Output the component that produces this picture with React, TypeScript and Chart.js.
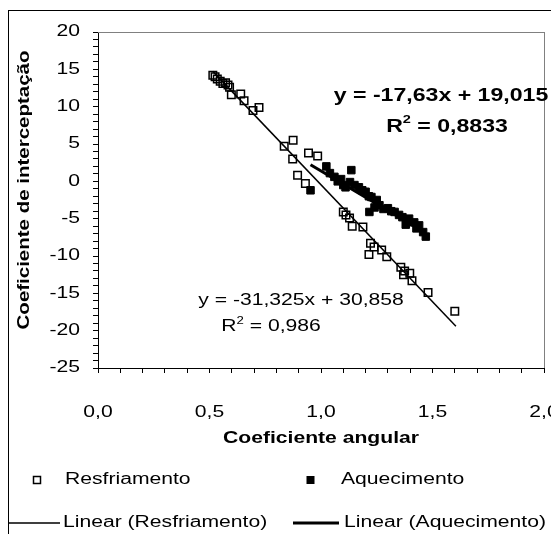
import React, { useEffect, useRef } from 'react';
import { Chart, registerables } from 'chart.js';

Chart.register(...registerables);

// ---------- data ----------
const resX = [0.515, 0.525, 0.535, 0.548, 0.56, 0.572, 0.583, 0.59, 0.598, 0.64, 0.655, 0.695, 0.722, 0.835, 0.875, 0.873, 0.895, 0.93, 0.944, 0.985, 1.1, 1.112, 1.128, 1.14, 1.188, 1.222, 1.215, 1.238, 1.272, 1.295, 1.358, 1.375, 1.37, 1.398, 1.408, 1.48, 1.6];
const resY = [14.2, 14.0, 13.7, 13.4, 13.1, 13.2, 12.9, 12.6, 11.6, 11.7, 10.8, 9.5, 9.9, 4.7, 5.5, 3.0, 0.8, -0.3, 3.8, 3.4, -4.1, -4.5, -4.9, -6.0, -6.1, -8.3, -9.8, -8.8, -9.2, -10.1, -11.5, -12.0, -12.5, -12.3, -13.3, -14.9, -17.4];

const aqX = [0.953, 1.024, 1.04, 1.06, 1.075, 1.09, 1.1, 1.11, 1.13, 1.136, 1.15, 1.17, 1.185, 1.2, 1.215, 1.226, 1.25, 1.217, 1.24, 1.262, 1.28, 1.3, 1.315, 1.33, 1.35, 1.365, 1.38, 1.395, 1.418, 1.428, 1.44, 1.458, 1.47];
const aqY = [-1.2, 2.0, 1.1, 0.6, 0.0, 0.3, -0.5, -0.8, -0.1, 1.5, -0.5, -0.8, -1.2, -1.4, -2.0, -2.1, -2.5, -4.1, -3.5, -3.2, -3.7, -3.6, -4.0, -4.1, -4.5, -4.8, -5.8, -5.0, -5.5, -6.3, -5.9, -6.8, -7.4];

const resTrendX = [0.515, 1.605];
const resTrendY = [14.726, -19.419];
const aqTrendX = [0.953, 1.47];
const aqTrendY = [2.213, -6.901];

const xTickLabels = ['0,0', '0,5', '1,0', '1,5', '2,0'];
const yTickLabels = ['20', '15', '10', '5', '0', '-5', '-10', '-15', '-20', '-25'];

const xTitle = 'Coeficiente angular';
const yTitle = 'Coeficiente de interceptação';
const seriesNames = ['Resfriamento', 'Aquecimento'];
const trendNames = ['Linear (Resfriamento)', 'Linear (Aquecimento)'];
const aqEquation = 'y = -17,63x + 19,015';
const aqR2 = '0,8833';
const resEquation = 'y = -31,325x + 30,858';
const resR2 = '0,986';

// ---------- presentation ----------
const FONT = '"Liberation Sans", Arial, Helvetica, sans-serif';
const W = 551;
const H = 526;
const SX = 1.32; // horizontal text stretch as in the original

function toPts(xs: number[], ys: number[]) {
  return xs.map((x, i) => ({ x, y: ys[i] }));
}

function patchCtx(ctx: any) {
  if (ctx.__stretched) return;
  ctx.__stretched = true;
  const origFill = ctx.fillText.bind(ctx);
  const origMeasure = ctx.measureText.bind(ctx);
  ctx.fillText = (text: string, x: number, y: number) => {
    ctx.save();
    ctx.translate(x, y);
    ctx.scale(SX, 1);
    origFill(text, 0, 0);
    ctx.restore();
  };
  ctx.measureText = (text: string) => {
    const m = origMeasure(text);
    return {
      width: m.width * SX,
      actualBoundingBoxAscent: m.actualBoundingBoxAscent,
      actualBoundingBoxDescent: m.actualBoundingBoxDescent,
      actualBoundingBoxLeft: m.actualBoundingBoxLeft * SX,
      actualBoundingBoxRight: m.actualBoundingBoxRight * SX,
    };
  };
}

function drawR2(ctx: any, value: string, cx: number, cy: number, size: number, bold: boolean) {
  const b = bold ? 'bold ' : '';
  const main = `${b}${size}px ${FONT}`;
  const small = `${b}${Math.round(size * 0.65)}px ${FONT}`;
  const rest = ' = ' + value;
  ctx.font = main;
  const wR = ctx.measureText('R').width;
  const wRest = ctx.measureText(rest).width;
  ctx.font = small;
  const w2 = ctx.measureText('2').width;
  let x = cx - (wR + w2 + wRest) / 2;
  ctx.textAlign = 'left';
  ctx.textBaseline = 'middle';
  ctx.font = main;
  ctx.fillText('R', x, cy);
  x += wR;
  ctx.font = small;
  ctx.fillText('2', x, cy - size * 0.38);
  x += w2;
  ctx.font = main;
  ctx.fillText(rest, x, cy);
}

const deco = {
  id: 'deco',
  beforeDatasetsDraw(chart: any) {
    const { ctx, chartArea: a } = chart;
    ctx.save();
    ctx.fillStyle = '#808080';
    const l = Math.round(a.left);
    const t = Math.round(a.top);
    const r = Math.round(a.right);
    const b = Math.round(a.bottom);
    ctx.fillRect(l, t, r - l + 1, 1);
    ctx.fillRect(r, t, 1, b - t);
    ctx.restore();
  },
  afterDraw(chart: any) {
    const { ctx, chartArea: a } = chart;
    ctx.save();
    ctx.fillStyle = '#000';
    ctx.strokeStyle = '#000';
    // outer frame (left and top visible)
    ctx.fillRect(0, 2, W, 1);
    ctx.fillRect(0, 2, 1, H - 2);

    // axis titles
    ctx.font = `bold 16px ${FONT}`;
    ctx.textAlign = 'center';
    ctx.textBaseline = 'middle';
    ctx.save();
    ctx.translate(17, 182);
    ctx.rotate(-Math.PI / 2);
    ctx.scale(1.28 / SX, 1);
    ctx.fillText(yTitle, 0, 0);
    ctx.restore();
    ctx.fillText(xTitle, (a.left + a.right) / 2, 431);

    // trendline labels
    ctx.font = `bold 17.5px ${FONT}`;
    ctx.textAlign = 'center';
    ctx.fillText(aqEquation, 433, 88);
    drawR2(ctx, aqR2, 439, 119, 17.5, true);
    ctx.font = `16px ${FONT}`;
    ctx.textAlign = 'center';
    ctx.textBaseline = 'middle';
    ctx.fillText(resEquation, 293, 293);
    drawR2(ctx, resR2, 263, 319, 16, false);

    // legend
    const r1 = 472;
    const r2 = 515;
    ctx.lineWidth = 1.5;
    ctx.strokeRect(25.5, r1 - 3.5, 7, 7);
    ctx.fillRect(298.5, r1 - 4, 8, 8);
    ctx.font = `16px ${FONT}`;
    ctx.textAlign = 'left';
    ctx.textBaseline = 'middle';
    ctx.fillText(seriesNames[0], 57, r1);
    ctx.fillText(seriesNames[1], 333, r1);
    ctx.fillRect(1, r2 - 0.75, 51, 1.5);
    ctx.fillRect(285, r2 - 1.5, 46, 3);
    ctx.fillText(trendNames[0], 55, r2);
    ctx.fillText(trendNames[1], 336, r2);
    ctx.restore();
  },
};

export default function App() {
  const ref = useRef<HTMLCanvasElement | null>(null);

  useEffect(() => {
    const canvas = ref.current;
    if (!canvas) return;
    patchCtx(canvas.getContext('2d'));
    Chart.defaults.font.family = FONT;
    Chart.defaults.font.size = 16;
    Chart.defaults.color = '#000';

    const chart = new Chart(canvas, {
      type: 'scatter',
      data: {
        datasets: [
          {
            label: trendNames[0],
            data: toPts(resTrendX, resTrendY),
            showLine: true,
            borderColor: '#000',
            borderWidth: 1.5,
            pointRadius: 0,
            order: 3,
          },
          {
            label: trendNames[1],
            data: toPts(aqTrendX, aqTrendY),
            showLine: true,
            borderColor: '#000',
            borderWidth: 3,
            pointRadius: 0,
            order: 4,
          },
          {
            label: seriesNames[0],
            data: toPts(resX, resY),
            pointStyle: 'rect',
            pointRadius: 5.3,
            backgroundColor: 'rgba(0,0,0,0)',
            borderColor: '#000',
            borderWidth: 1.5,
            order: 1,
          },
          {
            label: seriesNames[1],
            data: toPts(aqX, aqY),
            pointStyle: 'rect',
            pointRadius: 5.3,
            backgroundColor: '#000',
            borderColor: '#000',
            borderWidth: 1,
            order: 2,
          },
        ],
      },
      options: {
        responsive: false,
        animation: false,
        devicePixelRatio: 1,
        events: [],
        layout: { padding: { left: 0, top: 24, right: 15, bottom: 0 } },
        plugins: {
          legend: { display: false },
          tooltip: { enabled: false },
          title: { display: false },
        },
        scales: {
          x: {
            type: 'linear',
            min: 0,
            max: 2,
            afterFit: (s: any) => {
              s.height = 166;
              s.paddingLeft = 0;
              s.paddingRight = 0;
            },
            ticks: {
              stepSize: 0.1,
              autoSkip: false,
              maxRotation: 0,
              padding: 30,
              font: { size: 16 },
              color: '#000',
              callback: (v: any) => {
                const k = Math.round(Number(v) * 10);
                return k % 5 === 0 ? xTickLabels[k / 5] : '';
              },
            },
            grid: { drawOnChartArea: false, drawTicks: true, tickLength: 5, color: '#000', lineWidth: 1 },
            border: { display: true, color: '#000', width: 1 },
          },
          y: {
            type: 'linear',
            min: -25,
            max: 20,
            afterFit: (s: any) => {
              s.width = 90;
              s.paddingTop = 0;
              s.paddingBottom = 0;
            },
            ticks: {
              stepSize: 1,
              autoSkip: false,
              padding: 13,
              font: { size: 16 },
              color: '#000',
              callback: (v: any) => {
                const n = Math.round(Number(v));
                return n % 5 === 0 ? yTickLabels[(20 - n) / 5] : '';
              },
            },
            grid: { drawOnChartArea: false, drawTicks: true, tickLength: 5, color: '#000', lineWidth: 1 },
            border: { display: true, color: '#000', width: 1 },
          },
        },
      },
      plugins: [deco],
    });
    return () => chart.destroy();
  }, []);

  return (
    <div style={{ width: W, height: H }}>
      <canvas ref={ref} width={W} height={H} style={{ display: 'block', width: W, height: H }} />
    </div>
  );
}
